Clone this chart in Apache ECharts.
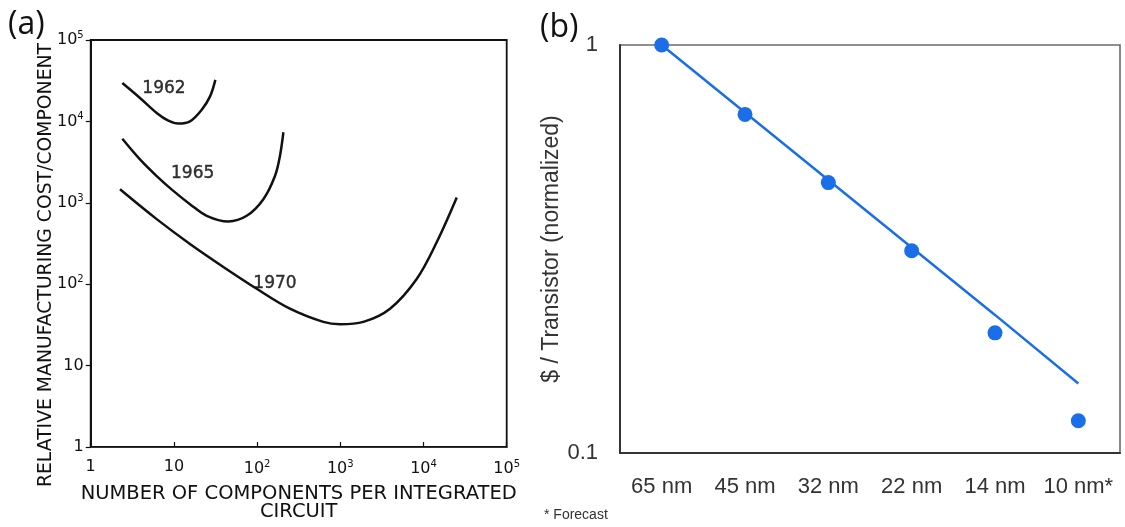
<!DOCTYPE html>
<html>
<head>
<meta charset="utf-8">
<script src="https://cdn.jsdelivr.net/npm/echarts@6/dist/echarts.min.js"></script>
<style>
  html, body { margin: 0; padding: 0; background: #fff; }
  #chart { width: 1125px; height: 527px; }
</style>
</head>
<body>
<div id="chart"></div>
<script>
// Panel (a): relative manufacturing cost per component vs. components per IC (log-log)
const curve1962 = [[2.40, 29600], [3.91, 19400], [6.21, 12700], [8.57, 10200], [11.3, 9400], [15.6, 10000], [21.6, 13900], [27.2, 20300], [31.5, 32400]];
const curve1965 = [[2.40, 6110], [3.91, 3410], [6.21, 2130], [9.84, 1400], [15.6, 962], [24.8, 692], [45.1, 590], [75, 692], [119, 1107], [164, 2130], [188, 3740], [207, 7360]];
const curve1970 = [[2.25, 1466], [6.21, 630], [15.6, 312], [39.3, 163], [98.9, 87.9], [248, 50], [625, 34.4], [991, 32.2], [1890, 34.4], [3960, 50], [8280, 116], [14400, 327], [25100, 1160]];
const yearLabels = [
  { name: '1962', value: [7.6, 25200] },
  { name: '1965', value: [16.8, 2280] },
  { name: '1970', value: [164, 101] }
];

// Panel (b): normalized cost per transistor by process node
const nodes = ['65 nm', '45 nm', '32 nm', '22 nm', '14 nm', '10 nm*'];
const costPoints = [1.0, 0.676, 0.46, 0.313, 0.197, 0.12];
const trendLine = [1.0, 0.683, 0.467, 0.319, 0.218, 0.148];

const inkA = '#111111';
const fontA = 'DejaVu Sans';
const fontB = 'Liberation Sans';
const blue = '#1a6fe8';

function powLabel(v) {
  const e = Math.round(Math.log10(v));
  if (e === 0) return '1';
  if (e === 1) return '10';
  return '10{sup|' + e + '}';
}
const powRich = { sup: { fontSize: 10, fontFamily: fontA, color: inkA, padding: [0, 0, 9, 0] } };

const curveStyle = { color: inkA, width: 2.5 };

const chart = echarts.init(document.getElementById('chart'), null, { renderer: 'canvas' });

chart.setOption({
  backgroundColor: '#ffffff',
  animation: false,
  grid: [
    { left: 90.7, top: 40, width: 416, height: 409, show: true, borderColor: inkA, borderWidth: 1.8, containLabel: false },
    { left: 620, top: 45, width: 500, height: 408, show: true, borderColor: '#6a6a6a', borderWidth: 1.6, containLabel: false }
  ],
  xAxis: [
    {
      gridIndex: 0, type: 'log', logBase: 10, min: 1, max: 100000,
      name: 'NUMBER OF COMPONENTS PER INTEGRATED\nCIRCUIT',
      nameLocation: 'middle', nameGap: 38,
      nameTextStyle: { fontFamily: fontA, fontSize: 19.5, color: inkA, lineHeight: 18 },
      axisLine: { show: true, lineStyle: { color: '#333', width: 1.2 } },
      axisTick: { show: true, inside: true, length: 5, lineStyle: { color: inkA, width: 1.2 } },
      axisLabel: { formatter: powLabel, rich: powRich, fontFamily: fontA, fontSize: 16, color: inkA, margin: 12 },
      splitLine: { show: false }, minorTick: { show: false }
    },
    {
      gridIndex: 1, type: 'category', data: nodes, boundaryGap: true,
      axisLine: { show: true, lineStyle: { color: '#333', width: 2 } },
      axisTick: { show: false },
      axisLabel: { interval: 0, fontFamily: fontB, fontSize: 22, color: '#333', margin: 23 },
      splitLine: { show: false }
    }
  ],
  yAxis: [
    {
      gridIndex: 0, type: 'log', logBase: 10, min: 1, max: 100000,
      axisLine: { show: true, lineStyle: { color: inkA, width: 2 } },
      axisTick: { show: true, inside: false, length: 5, lineStyle: { color: inkA, width: 1.2 } },
      axisLabel: { formatter: powLabel, rich: powRich, fontFamily: fontA, fontSize: 16, color: inkA, margin: 7 },
      splitLine: { show: false }, minorTick: { show: false }
    },
    {
      gridIndex: 1, type: 'log', logBase: 10, min: 0.1, max: 1,
      name: '$ / Transistor (normalized)',
      nameLocation: 'middle', nameGap: 34,
      nameTextStyle: { fontFamily: fontB, fontSize: 23, color: '#333' },
      axisLine: { show: true, lineStyle: { color: '#333', width: 2 } },
      axisTick: { show: false },
      axisLabel: { fontFamily: fontB, fontSize: 22, color: '#333', margin: 22,
        formatter: v => (Math.abs(v - 1) < 1e-9 ? '1' : '0.1') },
      splitLine: { show: false }, minorTick: { show: false }
    }
  ],
  series: [
    { type: 'line', xAxisIndex: 0, yAxisIndex: 0, data: curve1962, smooth: 0.35, showSymbol: false, lineStyle: curveStyle },
    { type: 'line', xAxisIndex: 0, yAxisIndex: 0, data: curve1965, smooth: 0.35, showSymbol: false, lineStyle: curveStyle },
    { type: 'line', xAxisIndex: 0, yAxisIndex: 0, data: curve1970, smooth: 0.35, showSymbol: false, lineStyle: curveStyle },
    {
      type: 'scatter', xAxisIndex: 0, yAxisIndex: 0, data: yearLabels, symbolSize: 1,
      itemStyle: { color: 'rgba(0,0,0,0)' },
      label: { show: true, position: 'inside', formatter: '{b}', fontFamily: fontA, fontSize: 17,
        color: '#000', textBorderColor: '#000', textBorderWidth: 0.4 },
      silent: true
    },
    { type: 'line', xAxisIndex: 1, yAxisIndex: 1, data: trendLine, showSymbol: false, lineStyle: { color: blue, width: 2.5 } },
    { type: 'scatter', xAxisIndex: 1, yAxisIndex: 1, data: costPoints, symbolSize: 15, itemStyle: { color: blue, opacity: 1 } }
  ],
  graphic: [
    { type: 'text', left: 8, top: 9, style: { text: '(a)', fontFamily: 'Open Sans', fontSize: 32, fill: '#111' } },
    { type: 'text', left: 540, top: 12, style: { text: '(b)', fontFamily: 'Open Sans', fontSize: 32, fill: '#111' } },
    {
      type: 'text', x: 46, y: 265, rotation: Math.PI / 2,
      style: { text: 'RELATIVE MANUFACTURING COST/COMPONENT', fontFamily: fontA, fontSize: 18.8,
        fill: inkA, align: 'center', verticalAlign: 'middle' }
    },
    { type: 'text', left: 544, top: 508, style: { text: '* Forecast', fontFamily: fontB, fontSize: 14, fill: '#333' } }
  ]
});
</script>
</body>
</html>
